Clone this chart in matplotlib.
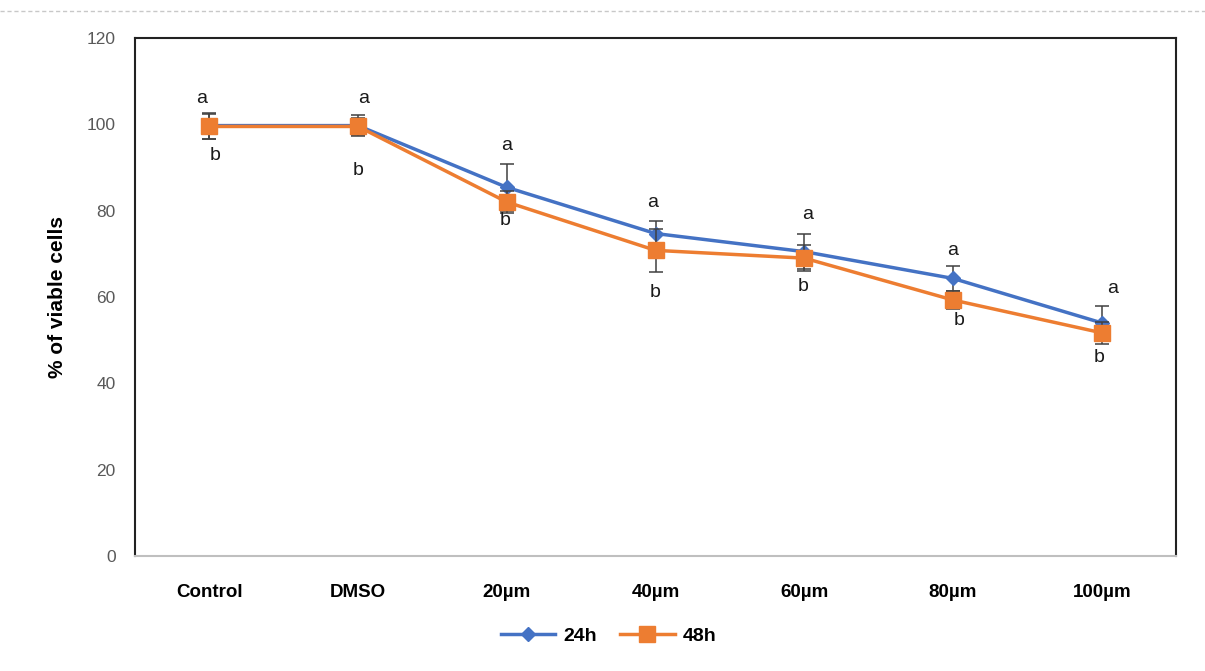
import matplotlib
matplotlib.use("Agg")
import matplotlib.pyplot as plt
from matplotlib.lines import Line2D
import numpy as np

categories = ["Control", "DMSO", "20µm", "40µm", "60µm", "80µm", "100µm"]
v24 = [99.7, 99.7, 85.4, 74.7, 70.5, 64.3, 54.0]
e24 = [3.0, 2.5, 5.5, 3.0, 4.0, 2.8, 4.0]
v48 = [99.5, 99.5, 82.0, 70.8, 69.0, 59.3, 51.7]
e48 = [3.0, 2.0, 2.5, 5.0, 3.0, 2.0, 2.5]
yticks = [0, 20, 40, 60, 80, 100, 120]

# letter annotation placements (data coords)
a_y = [106, 106, 95.1, 81.9, 79.1, 70.8, 62.0]
a_dx = [-0.05, 0.04, 0.0, -0.02, 0.02, 0.0, 0.07]
b_y = [92.8, 89.3, 77.7, 61.0, 62.4, 54.5, 46.0]
b_dx = [0.04, 0.0, -0.01, 0.0, -0.01, 0.04, -0.02]

blue = "#4472C4"
orange = "#ED7D31"

fig = plt.figure(figsize=(12.05, 6.71), dpi=100)
ax = fig.add_axes([0.112, 0.1714, 0.864, 0.772])
x = np.arange(len(categories)) + 0.5

ax.errorbar(x, v24, yerr=e24, color=blue, lw=2.5, marker="D", ms=7,
            ecolor="#404040", elinewidth=1.1, capsize=5, capthick=1.1, zorder=3, label="24h")
ax.errorbar(x, v48, yerr=e48, color=orange, lw=2.5, marker="s", ms=11,
            ecolor="#404040", elinewidth=1.1, capsize=5, capthick=1.1, zorder=4, label="48h")

for i in range(len(categories)):
    ax.text(x[i] + a_dx[i], a_y[i], "a", ha="center", va="center", fontsize=14,
            family="Liberation Sans", color="#1a1a1a", zorder=5)
    ax.text(x[i] + b_dx[i], b_y[i], "b", ha="center", va="center", fontsize=14,
            family="Liberation Sans", color="#1a1a1a", zorder=5)

ax.set_xlim(0, len(categories))
ax.set_ylim(0, 120)
ax.set_yticks(yticks)
ax.set_xticks(x)
ax.set_xticklabels(categories, fontsize=13.5, fontweight="bold", family="Liberation Sans")
for lbl in ax.get_yticklabels():
    lbl.set_fontsize(12.5)
    lbl.set_color("#595959")
    lbl.set_family("Liberation Sans")
ax.tick_params(axis="both", length=0)
ax.tick_params(axis="x", pad=20)
ax.tick_params(axis="y", pad=14)
for s in ax.spines.values():
    s.set_color("#222222")
    s.set_linewidth(1.5)
ax.spines["bottom"].set_color("#bfbfbf")

ax.set_ylabel("% of viable cells", fontsize=15, fontweight="bold", family="Liberation Sans",
              va="center")
ax.yaxis.set_label_coords(-0.074, 0.5)

leg = fig.legend(handles=[Line2D([], [], color=blue, lw=2.5, marker="D", ms=7),
                          Line2D([], [], color=orange, lw=2.5, marker="s", ms=11)],
                 labels=["24h", "48h"], loc="center", bbox_to_anchor=(0.505, 0.052), ncol=2,
                 frameon=False, prop={"family": "Liberation Sans", "weight": "bold", "size": 14},
                 handlelength=2.8, columnspacing=1.2, handletextpad=0.4)

fig.add_artist(Line2D([0.0, 1.0], [0.984, 0.984], transform=fig.transFigure,
                      color="#c8c8c8", lw=1, ls=(0, (3, 2))))

fig.savefig("out.png", dpi=100)
